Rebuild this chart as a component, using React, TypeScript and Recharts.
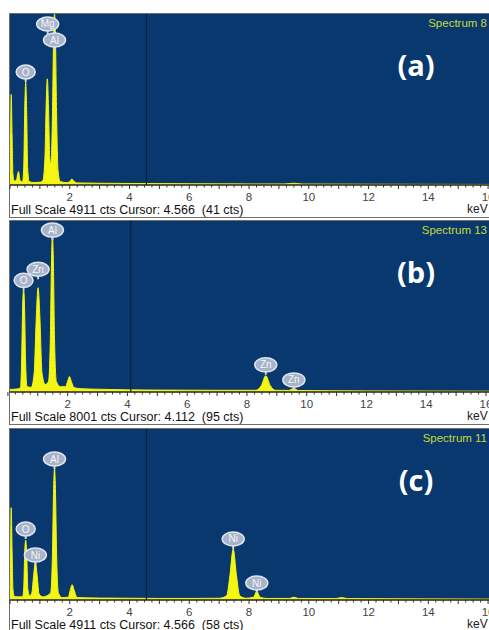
import { ComposedChart, Area, XAxis, YAxis, CartesianGrid, ReferenceLine, ReferenceDot } from 'recharts';

type Point = [number, number];
type Marker = [string, number, number];

// keV, counts
const spectrumA: Point[] = [
  [0.0, 300], [0.02, 1500], [0.04, 2600], [0.07, 1400], [0.1, 300], [0.15, 110],
  [0.22, 150], [0.26, 330], [0.28, 390], [0.3, 330], [0.34, 120], [0.42, 90],
  [0.46, 500], [0.49, 2000], [0.525, 2950], [0.56, 2000], [0.59, 500], [0.64, 100],
  [0.8, 70], [1.0, 80], [1.1, 130], [1.17, 800], [1.21, 2300], [1.25, 3050],
  [1.29, 2200], [1.33, 800], [1.37, 600], [1.42, 2000], [1.46, 4300], [1.49, 4911],
  [1.52, 4300], [1.56, 2000], [1.61, 400], [1.68, 100], [1.9, 70], [2.0, 100],
  [2.07, 170], [2.14, 110], [2.25, 60], [3.0, 50], [4.0, 44], [5.0, 40], [6.0, 36],
  [7.0, 33], [8.0, 30], [9.2, 30], [9.5, 50], [9.8, 28], [12.0, 22], [16.5, 15],
];

const spectrumB: Point[] = [
  [0.07, 120], [0.3, 140], [0.42, 200], [0.46, 1500], [0.49, 3800], [0.525, 4800],
  [0.56, 3800], [0.59, 1500], [0.64, 250], [0.78, 220], [0.88, 900], [0.95, 3500],
  [1.01, 4880], [1.07, 3500], [1.14, 900], [1.25, 350], [1.36, 500], [1.42, 2500],
  [1.46, 6200], [1.49, 7300], [1.52, 6200], [1.56, 2500], [1.62, 500], [1.75, 250],
  [1.93, 250], [2.0, 500], [2.06, 720], [2.12, 500], [2.22, 200], [2.5, 150],
  [3.0, 130], [4.0, 100], [5.0, 90], [6.0, 85], [7.0, 80], [8.3, 80], [8.48, 300],
  [8.63, 760], [8.78, 300], [8.95, 80], [9.4, 75], [9.57, 170], [9.72, 70],
  [12.0, 50], [16.5, 35],
];

const spectrumC: Point[] = [
  [0.0, 300], [0.02, 1500], [0.04, 2650], [0.07, 1400], [0.1, 300], [0.15, 100],
  [0.25, 90], [0.42, 90], [0.46, 350], [0.49, 1300], [0.525, 1720], [0.56, 1300],
  [0.6, 300], [0.66, 120], [0.73, 200], [0.79, 700], [0.85, 1080], [0.91, 700],
  [0.97, 180], [1.1, 90], [1.36, 200], [1.42, 1300], [1.46, 3200], [1.49, 3780],
  [1.52, 3200], [1.56, 1300], [1.62, 200], [1.75, 70], [1.95, 80], [2.02, 300],
  [2.08, 440], [2.14, 300], [2.25, 70], [3.0, 55], [4.0, 50], [5.0, 45], [6.0, 45],
  [7.0, 50], [7.25, 120], [7.36, 700], [7.47, 1470], [7.58, 700], [7.69, 120],
  [7.9, 50], [8.15, 80], [8.26, 245], [8.37, 80], [8.6, 45], [9.35, 45], [9.5, 80],
  [9.65, 45], [10.9, 40], [11.1, 70], [11.3, 40], [16.5, 25],
];

// element, keV, height of the bubble (cts)
const markersA: Marker[] = [['O', 0.525, 3245], ['Mg', 1.26, 4624], ['Al', 1.49, 4164]];
const markersB: Marker[] = [['O', 0.525, 5224], ['Zn', 1.01, 5742], ['Al', 1.49, 7577], ['Zn', 8.63, 1270], ['Zn', 9.57, 565]];
const markersC: Marker[] = [['O', 0.525, 2039], ['Ni', 0.85, 1292], ['Al', 1.49, 4049], ['Ni', 7.47, 1752], ['Ni', 8.26, 488]];

const tags = ['(a)', '(b)', '(c)'];
const spectrumNames = ['Spectrum 8', 'Spectrum 13', 'Spectrum 11'];
const fullScales = [4911, 8001, 4911];
const cursors = [4.566, 4.112, 4.566];
const cursorCounts = [41, 95, 58];
const xStarts = [0, 0.07, 0];
const panelTops = [14, 221, 429];

const xTicks = Array.from({ length: 67 }, (_, i) => i * 0.25);
const tickLabels = [2, 4, 6, 8, 10, 12, 14, 16];

const NAVY = '#08386e';
const YELLOW = '#f4f512';
const PLOT_H = 171;
const AXIS_H = 26;
const KEV_PX = 29.88;
const FONT = '"Liberation Sans", Arial, sans-serif';

const EnergyTick = (props: any) => {
  const { x, y, payload } = props;
  const v = payload.value;
  const major = Number.isInteger(v);
  return (
    <g>
      <line x1={x} x2={x} y1={y} y2={y + (major ? 4 : 2.5)} stroke='#333' strokeWidth={1} />
      {tickLabels.includes(v) && (
        <text x={x} y={y + 16} textAnchor='middle' fontSize={11.5} fill='#444' fontFamily={FONT}>
          {v}
        </text>
      )}
    </g>
  );
};

const bubble = (sym: string) => (props: any) => {
  const { cx, cy } = props;
  const rx = sym.length > 1 ? 11 : 9.5;
  return (
    <g>
      <line x1={cx} x2={cx} y1={cy + 5} y2={cy + 10} stroke='#c9d2e0' strokeWidth={2} />
      <ellipse cx={cx} cy={cy} rx={rx} ry={7} fill='#a7b3c8' stroke='#dfe5ef' strokeWidth={1.5} />
      <text x={cx} y={cy + 3.5} textAnchor='middle' fontSize={10} fill='#f3f6fb' fontFamily={FONT}>
        {sym}
      </text>
    </g>
  );
};

function Panel({ idx, spectrum, markers }: { idx: number; spectrum: Point[]; markers: Marker[] }) {
  const top = panelTops[idx];
  const x0 = xStarts[idx];
  const data = spectrum.map(([e, c]) => ({ e, c }));
  const plotW = 490;
  return (
    <>
      <div
        style={{
          position: 'absolute', left: 9, top: top - 1, width: 500, height: 205,
          border: '1px solid #6e6e6e', boxSizing: 'border-box',
        }}
      />
      <div style={{ position: 'absolute', left: 0, top }}>
        <ComposedChart width={500} height={PLOT_H + AXIS_H} data={data} margin={{ top: 0, right: 0, bottom: 0, left: 10 }}>
          <CartesianGrid fill={NAVY} stroke='none' horizontal={false} vertical={false} />
          <XAxis
            dataKey='e' type='number' domain={[x0, x0 + plotW / KEV_PX]} ticks={xTicks}
            allowDataOverflow height={AXIS_H} tickSize={0} tickMargin={0}
            axisLine={{ stroke: '#222', strokeWidth: 1.5 }} tick={<EnergyTick />} interval={0}
          />
          <YAxis hide domain={[0, fullScales[idx]]} allowDataOverflow />
          <ReferenceLine x={cursors[idx]} stroke='#0e1f33' strokeWidth={1.2} />
          <Area
            type='monotone' dataKey='c' stroke={YELLOW} strokeWidth={1} fill={YELLOW} fillOpacity={1}
            isAnimationActive={false} dot={false} activeDot={false}
          />
          {markers.map(([sym, e, c], i) => (
            <ReferenceDot key={i} x={e} y={c} ifOverflow='visible' shape={bubble(sym)} />
          ))}
        </ComposedChart>
      </div>
      <div
        style={{
          position: 'absolute', right: 2, top: top + 2, fontFamily: FONT, fontSize: 11.5,
          color: '#c9d93a', lineHeight: '14px',
        }}
      >
        {spectrumNames[idx]}
      </div>
      <div
        style={{
          position: 'absolute', left: 376, width: 80, textAlign: 'center', top: top + 31,
          fontFamily: '"Open Sans", sans-serif', fontWeight: 700, fontSize: 29, color: '#fff', lineHeight: '40px',
        }}
      >
        {tags[idx]}
      </div>
      <div
        style={{
          position: 'absolute', left: 11, top: top + PLOT_H + 18, fontFamily: FONT, fontSize: 12.5,
          color: '#111', lineHeight: '14px', whiteSpace: 'pre',
        }}
      >
        {`Full Scale ${fullScales[idx]} cts Cursor: ${cursors[idx].toFixed(3)}  (${cursorCounts[idx]} cts)`}
      </div>
      <div
        style={{
          position: 'absolute', left: 467, top: top + PLOT_H + 17, fontFamily: FONT, fontSize: 12,
          color: '#222', lineHeight: '14px',
        }}
      >
        keV
      </div>
    </>
  );
}

export default function App() {
  return (
    <div style={{ position: 'absolute', left: 0, top: 0, width: 489, height: 630, overflow: 'hidden', background: '#fff' }}>
      <Panel idx={0} spectrum={spectrumA} markers={markersA} />
      <Panel idx={1} spectrum={spectrumB} markers={markersB} />
      <Panel idx={2} spectrum={spectrumC} markers={markersC} />
    </div>
  );
}
